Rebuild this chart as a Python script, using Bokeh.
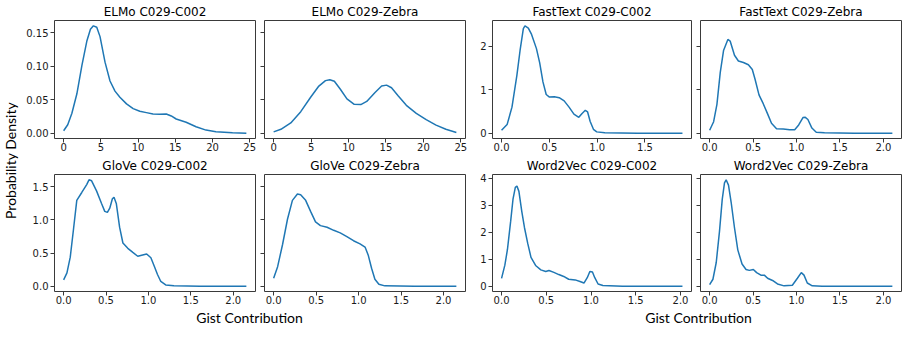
from bokeh.plotting import figure
from bokeh.models import Range1d, FixedTicker
from bokeh.layouts import row, column
from bokeh.embed import file_html
from bokeh.resources import INLINE

# ---------------- data ----------------
elmo_c002_x = [0, 0.55, 1.11, 1.78, 2.45, 3.11, 3.6, 4.0, 4.45, 4.89, 5.56, 6.23, 6.9, 7.56, 8.45,
               9.34, 10.23, 11.12, 12.01, 12.9, 13.79, 14.46, 15.12, 16.46, 17.79, 19.13, 20.46,
               22.69, 24.55]
elmo_c002_y = [0.004, 0.013, 0.030, 0.059, 0.101, 0.137, 0.155, 0.160, 0.158, 0.144, 0.106, 0.078,
               0.063, 0.054, 0.044, 0.037, 0.033, 0.031, 0.029, 0.0285, 0.029, 0.026, 0.0215,
               0.0167, 0.010, 0.005, 0.0025, 0.001, 0.0005]

elmo_zebra_x = [0, 0.97, 2.29, 3.62, 4.94, 6.04, 6.92, 7.5, 8.11, 8.91, 9.79, 10.76, 11.64, 12.43,
                13.54, 14.42, 15.08, 15.74, 16.62, 17.72, 19.05, 20.37, 21.69, 23.0, 24.4]
elmo_zebra_y = [0.0024, 0.0062, 0.0157, 0.0324, 0.0538, 0.0705, 0.0786, 0.080, 0.0776, 0.0657,
                0.0514, 0.0433, 0.0429, 0.0476, 0.061, 0.0705, 0.0719, 0.068, 0.0562, 0.0419,
                0.030, 0.0205, 0.0124, 0.0062, 0.0014]

glove_c002_x = [0, 0.039, 0.078, 0.117, 0.155, 0.214, 0.272, 0.299, 0.33, 0.388, 0.447, 0.485,
                0.516, 0.544, 0.575, 0.594, 0.621, 0.66, 0.699, 0.757, 0.816, 0.874, 0.932, 0.979,
                1.029, 1.068, 1.107, 1.146, 1.204, 1.301, 1.61, 2.155]
glove_c002_y = [0.095, 0.2, 0.438, 0.867, 1.295, 1.414, 1.533, 1.605, 1.59, 1.438, 1.248, 1.129,
                1.114, 1.176, 1.319, 1.343, 1.248, 0.89, 0.652, 0.571, 0.51, 0.452, 0.471, 0.486,
                0.429, 0.305, 0.176, 0.071, 0.019, 0.005, 0, 0]

glove_zebra_x = [0, 0.047, 0.105, 0.163, 0.221, 0.28, 0.318, 0.377, 0.435, 0.493, 0.551, 0.629,
                 0.707, 0.784, 0.862, 0.94, 1.017, 1.076, 1.115, 1.153, 1.192, 1.239, 1.309,
                 1.658, 2.151]
glove_zebra_y = [0.119, 0.295, 0.629, 1.01, 1.295, 1.39, 1.381, 1.295, 1.129, 0.971, 0.914, 0.89,
                 0.843, 0.805, 0.748, 0.686, 0.638, 0.59, 0.462, 0.271, 0.105, 0.029, 0.005, 0, 0]

fasttext_c002_x = [0, 0.058, 0.109, 0.16, 0.194, 0.228, 0.245, 0.28, 0.314, 0.365, 0.399, 0.433,
                   0.467, 0.501, 0.552, 0.603, 0.655, 0.706, 0.757, 0.808, 0.842, 0.876, 0.9,
                   0.927, 0.961, 0.996, 1.081, 1.422, 1.892]
fasttext_c002_y = [0.066, 0.197, 0.599, 1.328, 1.912, 2.409, 2.474, 2.423, 2.277, 1.949, 1.62,
                   1.182, 0.891, 0.832, 0.839, 0.818, 0.745, 0.599, 0.438, 0.365, 0.453, 0.526,
                   0.489, 0.27, 0.088, 0.029, 0.007, 0, 0]

fasttext_zebra_x = [0, 0.046, 0.084, 0.122, 0.16, 0.21, 0.236, 0.286, 0.331, 0.389, 0.446, 0.491,
                    0.522, 0.568, 0.617, 0.667, 0.712, 0.77, 0.846, 0.922, 0.979, 1.025, 1.074,
                    1.101, 1.131, 1.177, 1.227, 1.322, 1.665, 2.103]
fasttext_zebra_y = [0.066, 0.263, 0.664, 1.394, 1.905, 2.161, 2.124, 1.796, 1.664, 1.628, 1.577,
                    1.467, 1.248, 0.883, 0.679, 0.445, 0.226, 0.102, 0.095, 0.08, 0.08, 0.19,
                    0.358, 0.365, 0.314, 0.117, 0.022, 0.007, 0, 0]

word2vec_c002_x = [0, 0.037, 0.066, 0.102, 0.128, 0.154, 0.172, 0.194, 0.227, 0.256, 0.292, 0.329,
                   0.384, 0.439, 0.494, 0.53, 0.585, 0.64, 0.695, 0.75, 0.823, 0.877, 0.921,
                   0.958, 0.987, 1.016, 1.042, 1.079, 1.133, 1.353, 2.022]
word2vec_c002_y = [0.29, 0.779, 1.36, 2.407, 3.221, 3.663, 3.709, 3.512, 2.756, 2.174, 1.593,
                   1.07, 0.756, 0.605, 0.547, 0.581, 0.512, 0.43, 0.36, 0.256, 0.233, 0.174,
                   0.116, 0.314, 0.547, 0.523, 0.314, 0.081, 0.023, 0, 0]

word2vec_zebra_x = [0, 0.038, 0.076, 0.114, 0.145, 0.171, 0.19, 0.217, 0.248, 0.286, 0.324,
                    0.373, 0.419, 0.457, 0.503, 0.541, 0.59, 0.629, 0.667, 0.724, 0.781, 0.857,
                    0.952, 1.01, 1.055, 1.086, 1.124, 1.181, 1.295, 2.103]
word2vec_zebra_y = [0.058, 0.257, 0.877, 2.047, 3.216, 3.825, 3.94, 3.743, 3.099, 2.164, 1.345,
                    0.819, 0.62, 0.585, 0.62, 0.503, 0.409, 0.409, 0.292, 0.211, 0.082, 0.012,
                    0.035, 0.292, 0.503, 0.409, 0.117, 0.012, 0, 0]

# ticks
elmo_xticks = [0, 5, 10, 15, 20, 25]
elmo_xlabels = ["0", "5", "10", "15", "20", "25"]
elmo_yticks = [0, 0.05, 0.10, 0.15]
elmo_ylabels = ["0.00", "0.05", "0.10", "0.15"]
half_xticks = [0, 0.5, 1.0, 1.5, 2.0]
half_xlabels = ["0.0", "0.5", "1.0", "1.5", "2.0"]
glove_yticks = [0, 0.5, 1.0, 1.5]
glove_ylabels = ["0.0", "0.5", "1.0", "1.5"]
fasttext_yticks = [0, 1, 2]
fasttext_ylabels = ["0", "1", "2"]
word2vec_yticks = [0, 1, 2, 3, 4]
word2vec_ylabels = ["0", "1", "2", "3", "4"]

titles = ["ELMo C029-C002", "ELMo C029-Zebra", "GloVe C029-C002", "GloVe C029-Zebra",
          "FastText C029-C002", "FastText C029-Zebra", "Word2Vec C029-C002", "Word2Vec C029-Zebra"]
x_label = "Gist Contribution"
y_label = "Probability Density"

# ---------------- styling ----------------
FONT = "DejaVu Sans"
LABEL_FONT = "Lato"
LINE = "#1f77b4"
EDGE = "#3a3a3a"
TXT = "#1a1a1a"


def padded(vals_list):
    lo = min(min(v) for v in vals_list)
    hi = max(max(v) for v in vals_list)
    m = 0.05 * (hi - lo)
    return lo - m, hi + m


def panel(title, xs, ys, ylim, xticks, xlabels, yticks, ylabels, show_ylab,
          width, height, bl, br, bt, bb, standoff):
    x0, x1 = padded([xs])
    p = figure(width=width, height=height, x_range=Range1d(x0, x1),
               y_range=Range1d(ylim[0], ylim[1]), output_backend="svg",
               toolbar_location=None, title=title,
               min_border_left=bl, min_border_right=br, min_border_top=bt, min_border_bottom=bb)
    p.title.align = "center"
    p.title.text_font = FONT
    p.title.text_font_size = "12px"
    p.title.text_font_style = "normal"
    p.title.text_color = "black"
    p.title.standoff = standoff
    p.line(xs, ys, line_color=LINE, line_width=1.5)
    p.grid.visible = False
    p.outline_line_color = EDGE
    p.outline_line_width = 1
    p.background_fill_color = "white"
    p.border_fill_color = "white"
    for ax in (p.xaxis[0], p.yaxis[0]):
        ax.axis_line_color = None
        ax.major_tick_in = 0
        ax.major_tick_out = 4
        ax.minor_tick_in = 0
        ax.minor_tick_out = 0
        ax.major_tick_line_color = EDGE
        ax.major_tick_line_width = 1
        ax.major_label_text_font = FONT
        ax.major_label_text_font_size = "10px"
        ax.major_label_text_color = TXT
    p.xaxis[0].ticker = FixedTicker(ticks=xticks)
    p.xaxis[0].major_label_overrides = dict(zip(xticks, xlabels))
    p.xaxis[0].major_label_standoff = 0
    p.yaxis[0].ticker = FixedTicker(ticks=yticks)
    if show_ylab:
        p.yaxis[0].major_label_overrides = dict(zip(yticks, ylabels))
        p.yaxis[0].major_label_standoff = 2
    else:
        p.yaxis[0].major_label_overrides = {t: "" for t in yticks}
        p.yaxis[0].major_label_standoff = 0
    return p


elmo_ylim = padded([elmo_c002_y, elmo_zebra_y])
glove_ylim = padded([glove_c002_y, glove_zebra_y])
fast_ylim = padded([fasttext_c002_y, fasttext_zebra_y])
w2v_ylim = padded([word2vec_c002_y, word2vec_zebra_y])

YLAB_W = 18
H1, H2, H3 = 155, 153, 18
W = [241, 218, 219, 207]
BL = [36, 5, 13, 4]
BR = [4, 12, 5, 2]

p1 = panel(titles[0], elmo_c002_x, elmo_c002_y, elmo_ylim, elmo_xticks, elmo_xlabels,
           elmo_yticks, elmo_ylabels, True, W[0], H1, BL[0], BR[0], 20, 17, 4)
p2 = panel(titles[1], elmo_zebra_x, elmo_zebra_y, elmo_ylim, elmo_xticks, elmo_xlabels,
           elmo_yticks, elmo_ylabels, False, W[1], H1, BL[1], BR[1], 20, 17, 4)
p3 = panel(titles[4], fasttext_c002_x, fasttext_c002_y, fast_ylim, half_xticks[:4], half_xlabels[:4],
           fasttext_yticks, fasttext_ylabels, True, W[2], H1, BL[2], BR[2], 20, 17, 4)
p4 = panel(titles[5], fasttext_zebra_x, fasttext_zebra_y, fast_ylim, half_xticks, half_xlabels,
           fasttext_yticks, fasttext_ylabels, False, W[3], H1, BL[3], BR[3], 20, 17, 4)

q1 = panel(titles[2], glove_c002_x, glove_c002_y, glove_ylim, half_xticks, half_xlabels,
           glove_yticks, glove_ylabels, True, W[0], H2, BL[0], BR[0], 18, 17, 3)
q2 = panel(titles[3], glove_zebra_x, glove_zebra_y, glove_ylim, half_xticks, half_xlabels,
           glove_yticks, glove_ylabels, False, W[1], H2, BL[1], BR[1], 18, 17, 3)
q3 = panel(titles[6], word2vec_c002_x, word2vec_c002_y, w2v_ylim, half_xticks, half_xlabels,
           word2vec_yticks, word2vec_ylabels, True, W[2], H2, BL[2], BR[2], 17, 17, 3)
q4 = panel(titles[7], word2vec_zebra_x, word2vec_zebra_y, w2v_ylim, half_xticks, half_xlabels,
           word2vec_yticks, word2vec_ylabels, False, W[3], H2, BL[3], BR[3], 17, 17, 3)


def label_fig(width, height, text, side, bl=0, br=0, bt=0, bb=0):
    """A figure whose only visible content is an axis label (no ticks, no labels)."""
    b = figure(width=width, height=height, x_range=Range1d(0, 1), y_range=Range1d(0, 1),
               output_backend="svg", toolbar_location=None, title=None,
               min_border_left=bl, min_border_right=br, min_border_top=bt, min_border_bottom=bb,
               x_axis_location=("below" if side == "x" else None),
               y_axis_location=("left" if side == "y" else None))
    b.outline_line_color = None
    b.grid.visible = False
    b.background_fill_color = "white"
    b.border_fill_color = "white"
    ax = b.xaxis[0] if side == "x" else b.yaxis[0]
    ax.ticker = FixedTicker(ticks=[])
    ax.axis_line_color = None
    ax.major_tick_out = 0
    ax.major_tick_in = 0
    ax.minor_tick_out = 0
    ax.minor_tick_in = 0
    ax.major_label_standoff = 0
    ax.axis_label = text
    ax.axis_label_standoff = 0
    ax.axis_label_text_font = LABEL_FONT
    ax.axis_label_text_font_size = "14px"
    ax.axis_label_text_font_style = "normal"
    ax.axis_label_text_color = "black"
    return b


TOTAL_H = H1 + H2 + H3
# y label: frame spans 0..320 so that the label is centred at y = 160
yl = label_fig(YLAB_W, TOTAL_H, y_label, "y", bl=17, bt=0, bb=TOTAL_H - 320)
# x labels: frames centred at x = 249 and x = 698 (page pixels)
xa = label_fig(480 - YLAB_W, H3, x_label, "x", bb=17)
xb = label_fig(sum(W) + YLAB_W - 480, H3, x_label, "x", bl=13, bb=17)

root = row(yl, column(row(p1, p2, p3, p4), row(q1, q2, q3, q4), row(xa, xb)))

open("out.html", "w").write(file_html(root, INLINE))
